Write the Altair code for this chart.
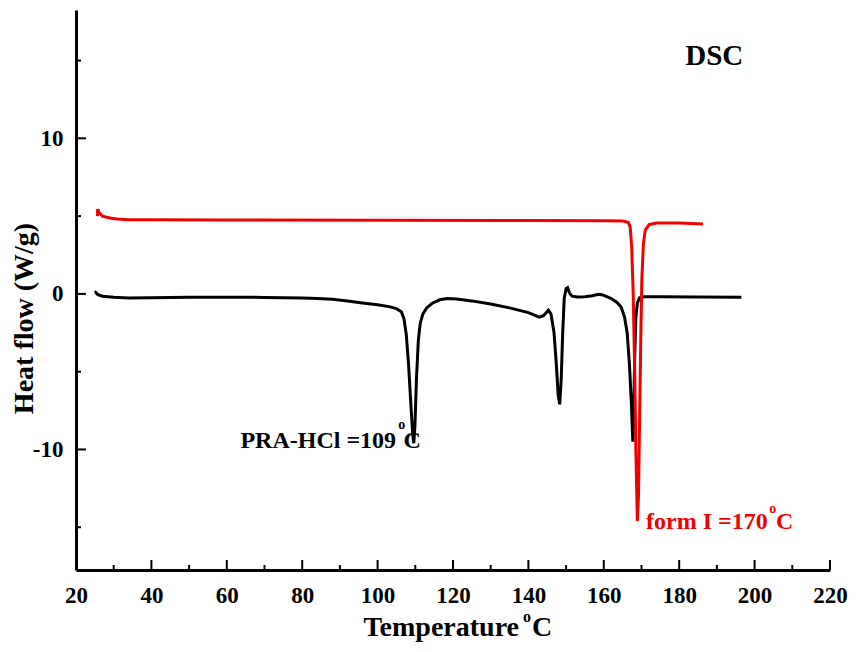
import altair as alt
import pandas as pd

# ---------------- data ----------------
black_t = [25.0, 25.2, 25.8, 27.0, 30.0, 34.0, 40.0, 50.0, 60.0, 65.0, 70.0, 75.0, 80.0, 84.0,
           88.0, 92.0, 96.0, 100.0, 103.0, 105.0, 106.3, 107.0, 107.6, 108.2, 108.8, 109.3,
           109.6, 109.9, 110.3, 110.8, 111.3, 112.0, 113.0, 114.5, 116.5, 118.5, 121.0, 125.0,
           130.0, 135.0, 140.0, 142.9, 144.0, 145.3, 146.0, 146.8, 147.4, 147.9, 148.3, 148.7,
           149.1, 149.5, 150.0, 150.4, 150.9, 151.6, 153.0, 155.0, 157.0, 158.6, 159.5, 160.5,
           162.0, 163.5, 164.6, 165.5, 166.2, 166.8, 167.3, 167.7, 167.9, 168.2, 168.5, 168.9,
           169.5, 170.5, 175.0, 185.0, 196.5]
black_v = [0.05, 0.10, -0.05, -0.15, -0.22, -0.26, -0.25, -0.22, -0.21, -0.21, -0.23, -0.25, -0.27, -0.29,
           -0.35, -0.45, -0.58, -0.70, -0.82, -0.95, -1.15, -1.6, -2.6, -4.5, -7.0, -9.0,
           -9.6, -8.5, -5.5, -3.0, -1.9, -1.3, -0.9, -0.6, -0.38, -0.30, -0.33, -0.45,
           -0.65, -0.90, -1.20, -1.50, -1.40, -1.05, -1.3, -2.5, -4.5, -6.5, -7.1, -5.5,
           -2.5, -0.3, 0.35, 0.40, 0.05, -0.15, -0.20, -0.18, -0.12, -0.02, -0.05, -0.15,
           -0.30, -0.55, -0.85, -1.5, -2.5, -4.5, -7.0, -9.5, -8.0, -4.0, -1.5, -0.6,
           -0.25, -0.18, -0.18, -0.20, -0.22]

red_t = [25.7, 25.75, 26.2, 27.0, 29.0, 31.0, 34.0, 40.0, 60.0, 100.0, 140.0, 160.0, 165.0,
         166.5, 167.0, 167.4, 167.8, 168.2, 168.5, 168.9, 169.2, 169.5, 169.8, 170.1, 170.5,
         171.0, 172.0, 174.0, 180.0, 186.3]
red_v = [5.0, 5.45, 5.2, 5.0, 4.88, 4.82, 4.77, 4.76, 4.75, 4.74, 4.72, 4.70, 4.68,
         4.6, 4.3, 3.0, 0.0, -5.0, -10.0, -14.6, -13.0, -8.0, -3.0, 1.0, 3.2,
         4.1, 4.45, 4.55, 4.55, 4.50]

x_major = [20, 40, 60, 80, 100, 120, 140, 160, 180, 200, 220]
x_minor = [30, 50, 70, 90, 110, 130, 150, 170, 190, 210]
y_major = [-10, 0, 10]
y_minor = [-15, -5, 5, 15]

FONT = "Liberation Serif"
W, H = 754, 560
RED = "#f00000"

xs = alt.Scale(domain=[20, 220], nice=False, zero=False)
ys = alt.Scale(domain=[-17.75, 18.25], nice=False, zero=False)

x_axis = alt.Axis(values=x_major, ticks=False, tickSize=0, grid=False, domainWidth=3,
                  domainColor="black", labelFont=FONT, labelFontSize=23, labelFontWeight="bold",
                  labelColor="black", labelPadding=14, labelFlush=False, labelOverlap=False,
                  labelExpr="toString(datum.value)", title=None)
y_axis = alt.Axis(values=y_major, ticks=False, tickSize=0, grid=False, domainWidth=3,
                  domainColor="black", labelFont=FONT, labelFontSize=23, labelFontWeight="bold",
                  labelColor="black", labelPadding=13, labelOverlap=False,
                  labelExpr="toString(datum.value)",
                  title="Heat flow (W/g)", titleFont=FONT, titleFontSize=28, titleFontWeight="bold",
                  titleColor="black", titleX=-52, titleY=308, titleAngle=270,
                  titleAlign="center", titleBaseline="middle")


def X():
    return alt.X("T:Q", scale=xs, axis=x_axis)


def Y():
    return alt.Y("v:Q", scale=ys, axis=y_axis)


black_df = pd.DataFrame({"T": black_t, "v": black_v})
red_df = pd.DataFrame({"T": red_t, "v": red_v})

black_line = alt.Chart(black_df).mark_line(color="black", strokeWidth=3).encode(x=X(), y=Y())
red_line = alt.Chart(red_df).mark_line(color=RED, strokeWidth=3).encode(x=X(), y=Y())

# inward ticks
xt_major = alt.Chart(pd.DataFrame({"T": x_major})).mark_rule(color="black", strokeWidth=2).encode(
    x=X(), y=alt.value(H), y2=alt.value(H - 10))
xt_minor = alt.Chart(pd.DataFrame({"T": x_minor})).mark_rule(color="black", strokeWidth=2).encode(
    x=X(), y=alt.value(H), y2=alt.value(H - 5))
yt_major = alt.Chart(pd.DataFrame({"v": y_major})).mark_rule(color="black", strokeWidth=2).encode(
    y=Y(), x=alt.value(0), x2=alt.value(10))
yt_minor = alt.Chart(pd.DataFrame({"v": y_minor})).mark_rule(color="black", strokeWidth=2).encode(
    y=Y(), x=alt.value(0), x2=alt.value(5))


# annotations (data coordinates)
def txt(T, v, s, size, color="black", align="left"):
    return alt.Chart(pd.DataFrame({"T": [T], "v": [v], "s": [s]})).mark_text(
        font=FONT, fontSize=size, fontWeight="bold", color=color, align=align,
        baseline="alphabetic").encode(x=X(), y=Y(), text="s:N")


dsc = txt(189.3, 14.7, "DSC", 29, align="center")
pra1 = txt(104.9, -9.88, "PRA-HCl =109", 24, align="right")
pra2 = txt(105.5, -8.7, "o", 14)
pra3 = txt(106.9, -9.88, "C", 24)
f1 = txt(171.2, -15.1, "form I =170", 24, color=RED)
f2 = txt(203.9, -14.1, "o", 14, color=RED)
f3 = txt(205.7, -15.1, "C", 24, color=RED)


# x-axis title with superscript o (positions relative to the plot area)
def ptxt(px, py, s, size, align):
    return alt.Chart(pd.DataFrame({"s": [s]})).mark_text(
        font=FONT, fontSize=size, fontWeight="bold", color="black", align=align,
        baseline="alphabetic").encode(x=alt.value(px), y=alt.value(py), text="s:N")


xt1 = ptxt(443, 626, "Temperature", 28, "right")
xt2 = ptxt(447, 612, "o", 16, "left")
xt3 = ptxt(456, 626, "C", 28, "left")

chart = alt.layer(
    xt_major, xt_minor, yt_major, yt_minor,
    black_line, red_line,
    dsc, pra1, pra2, pra3, f1, f2, f3, xt1, xt2, xt3,
).properties(
    width=W, height=H,
    padding={"left": 68, "top": 2, "right": 20, "bottom": 74},
    autosize=alt.AutoSizeParams(type="none"),
).configure(font=FONT).configure_axis(
    labelFont=FONT, titleFont=FONT
).configure_view(stroke=None)

chart.save("out.html", embed_options={"renderer": "svg", "actions": False})
